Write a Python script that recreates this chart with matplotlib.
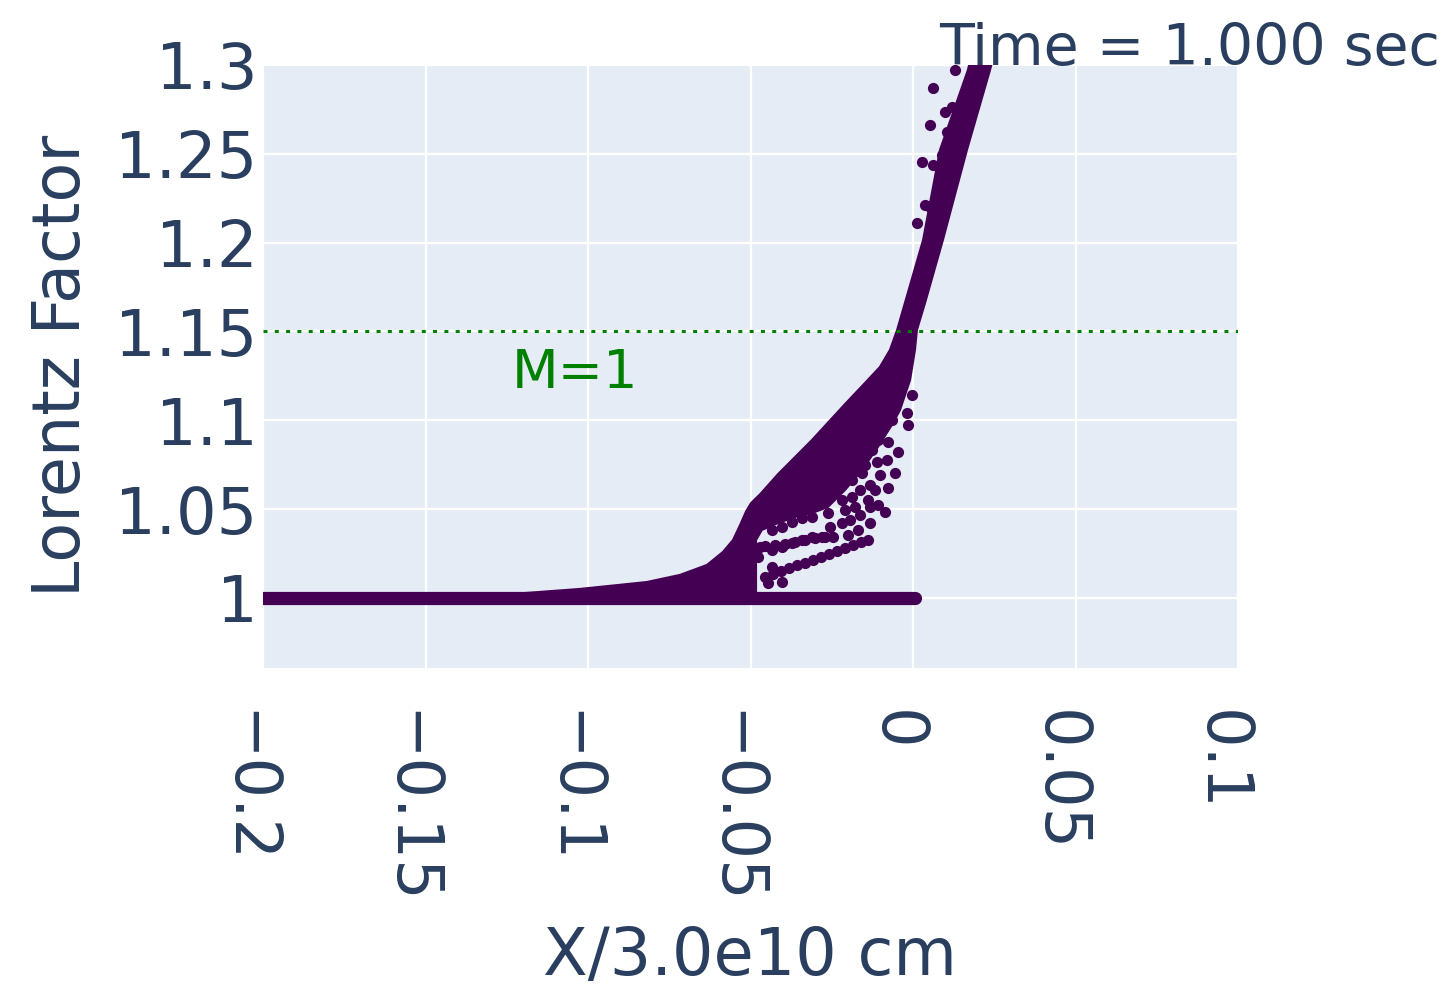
import matplotlib.pyplot as plt
from matplotlib.patches import Polygon
from matplotlib.transforms import ScaledTranslation

# particles sitting at rest ahead of the wave
base_x = [-0.2, 0.0006]
base_y = [1.0, 1.0]

# outline of the tightly packed particles (pre-heated wedge + front)
core_x = [-0.140, -0.1025, -0.0819, -0.0717, -0.0634, -0.0585, -0.0554,
          -0.0532, -0.0513, -0.0498, -0.0470, -0.0415, -0.0311, -0.0209,
          -0.0148, -0.0102, -0.0071, -0.0049, -0.0025, 0.0031, 0.0083,
          0.0169, 0.0185, 0.0255, 0.0237, 0.0166, 0.0092, 0.0037, 0.0012,
          0.0006, -0.0009, -0.0040, -0.0065, -0.0108, -0.0157, -0.0209,
          -0.0262, -0.0311, -0.0363, -0.0415, -0.0465, -0.0483, -0.0483]
core_y = [1.000, 1.0051, 1.0090, 1.0130, 1.0186, 1.0259, 1.0326,
          1.0411, 1.0490, 1.0535, 1.0585, 1.0698, 1.0889, 1.1092,
          1.1210, 1.1300, 1.1396, 1.1508, 1.1660, 1.2015, 1.2522,
          1.2972, 1.3100, 1.3100, 1.2972, 1.2522, 1.2015, 1.1660, 1.1508,
          1.1396, 1.1227, 1.1058, 1.0974, 1.0850, 1.0720, 1.0608,
          1.0512, 1.0478, 1.0456, 1.0422, 1.0383, 1.0326, 1.0000]

# loose particles trailing the front
loose_x = [-0.00185, -0.00462, -0.00554, -0.00769, -0.00862, -0.01323,
           -0.01323, -0.01015, -0.00800, -0.01108, -0.01477, -0.00769,
           -0.00923, -0.00862, -0.00554, -0.01631, -0.01877, -0.01785,
           -0.02092, -0.02185, -0.02554, -0.02462, -0.02800, -0.03108,
           -0.03415, -0.03723, -0.04031, -0.04338, -0.04708, -0.04769,
           -0.04462, -0.04031, -0.04338,
           -0.03108, -0.03415, -0.03723, -0.04031, -0.04338, -0.02615,
           -0.02185, -0.01877, -0.01569, -0.01262, -0.01569, -0.01077,
           -0.01262, -0.01477, -0.00954, -0.00646,
           # lowest streak
           -0.04554, -0.04308, -0.04062, -0.03815, -0.03569, -0.03323,
           -0.03077, -0.02831, -0.02585, -0.02338, -0.02092, -0.01846,
           -0.01600, -0.01385,
           # streak just above it
           -0.04554, -0.04246, -0.03938, -0.03631, -0.03323, -0.03015,
           -0.02708,
           -0.01938, -0.01631, -0.01385, -0.01169, -0.01077, -0.01323,
           -0.01692, -0.02000, -0.00492, -0.00031, -0.00154]
loose_y = [1.1041, 1.0822, 1.0704, 1.0619, 1.0484, 1.0512,
           1.0422, 1.0692, 1.0777, 1.0766, 1.0749, 1.0878,
           1.0962, 1.1075, 1.1098, 1.0608, 1.0568, 1.0512,
           1.0495, 1.0422, 1.0400, 1.0343, 1.0343, 1.0343,
           1.0326, 1.0310, 1.0287, 1.0270, 1.0287, 1.0231,
           1.0084, 1.0090, 1.0175,
           1.0456, 1.0450, 1.0428, 1.0400, 1.0383, 1.0478,
           1.0552, 1.0664, 1.0704, 1.0833, 1.0889, 1.0889,
           1.0946, 1.0985, 1.1019, 1.1002,
           1.0118, 1.0135, 1.0152, 1.0169, 1.0183, 1.0199,
           1.0216, 1.0232, 1.0248, 1.0265, 1.0281, 1.0297,
           1.0313, 1.0326,
           1.0293, 1.0298, 1.0304, 1.0315, 1.0326, 1.0338,
           1.0343,
           1.0439, 1.0467, 1.0552, 1.0608, 1.0524, 1.0636,
           1.0383, 1.0355, 1.1143, 1.1143, 1.0974]

# stragglers beyond the sonic point
upper_x = [0.0129, 0.0062, 0.0120, 0.0098, 0.0052, 0.0105, 0.0120, 0.0028,
           0.0062, 0.0089, 0.0083, 0.0074, 0.0037, 0.0052, 0.0012]
upper_y = [1.2972, 1.2870, 1.2764, 1.2735, 1.2662, 1.2623, 1.2561, 1.2454,
           1.2437, 1.2493, 1.2353, 1.2280, 1.2212, 1.2201, 1.2111]

sonic_gamma = 1.15

x_ticks = [-0.2, -0.15, -0.1, -0.05, 0, 0.05, 0.1]
x_tick_labels = ['\u22120.2', '\u22120.15', '\u22120.1', '\u22120.05', '0', '0.05', '0.1']
y_ticks = [1, 1.05, 1.1, 1.15, 1.2, 1.25, 1.3]
y_tick_labels = ['1', '1.05', '1.1', '1.15', '1.2', '1.25', '1.3']

purple = '#440154'
txt = '#2a3f5f'

fig = plt.figure(figsize=(14.5, 9.93), dpi=100)
ax = fig.add_axes([263 / 1450, 1 - 668 / 993, 975 / 1450, 603 / 993])
ax.set_facecolor('#E5ECF6')
for s in ax.spines.values():
    s.set_visible(False)

ax.set_xlim(-0.2, 0.1)
ax.set_ylim(0.9606, 1.3)
ax.set_xticks(x_ticks)
ax.set_xticklabels(x_tick_labels, rotation=270)
ax.set_yticks(y_ticks)
ax.set_yticklabels(y_tick_labels)
ax.tick_params(length=0, labelsize=46, colors=txt)
ax.tick_params(axis='x', pad=30)
ax.tick_params(axis='y', pad=4)
ax.grid(True, color='white', linewidth=1.6)
ax.set_axisbelow(True)

# nudge the rotated labels so the digits sit on their grid lines
shift = ScaledTranslation(-0.17, 0, fig.dpi_scale_trans)
for lab in ax.get_xticklabels():
    lab.set_transform(lab.get_transform() + shift)

ax.plot(base_x, base_y, color=purple, linewidth=9.5, solid_capstyle='round', zorder=3)
ax.add_patch(Polygon(list(zip(core_x, core_y)), closed=True, facecolor=purple,
                     edgecolor=purple, linewidth=1.5, zorder=3))
ax.scatter(loose_x, loose_y, s=65, color=purple, linewidths=0, zorder=3)
ax.scatter(upper_x, upper_y, s=65, color=purple, linewidths=0, zorder=3)

ax.axhline(sonic_gamma, color='#008000', linewidth=2.2, linestyle=(0, (1.3, 2.4)), zorder=4)
ax.text(-0.104, 1.1182, 'M=1', color='#008000', fontsize=39, ha='center', va='baseline')

fig.text(62 / 1450, 1 - 366 / 993, 'Lorentz Factor', rotation=90, fontsize=47,
         color=txt, ha='center', va='center')
fig.text(750 / 1450, 1 - 975 / 993, 'X/3.0e10 cm', fontsize=47, color=txt,
         ha='center', va='baseline')
fig.text(1440 / 1450, 1 - 65 / 993, 'Time = 1.000 sec', fontsize=41, color=txt,
         ha='right', va='baseline')

fig.savefig('out.png', dpi=100)
